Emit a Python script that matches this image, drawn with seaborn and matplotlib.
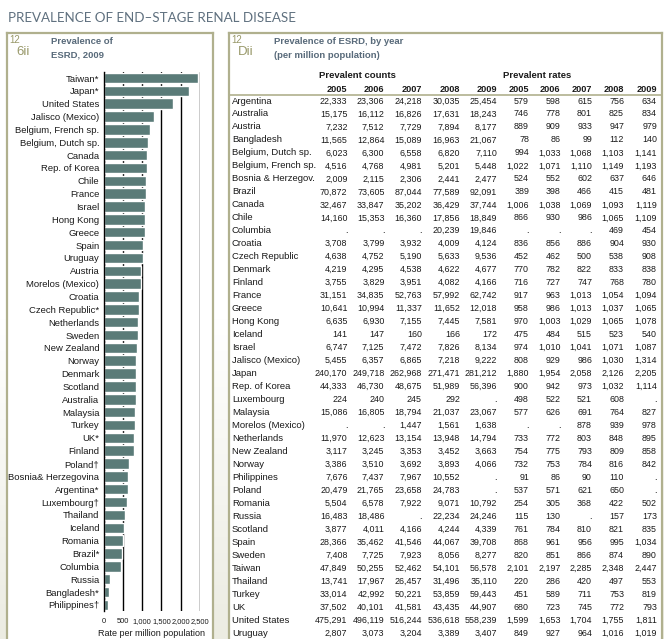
#!/usr/bin/env python3
"""Prevalence of end-stage renal disease: 2009 bar chart plus yearly table."""
import numpy as np
import matplotlib
matplotlib.use('Agg')
import matplotlib.pyplot as plt
import seaborn as sns
from matplotlib import font_manager
from matplotlib.colors import LinearSegmentedColormap

# ---- bar chart data (rate per million, 2009) ----
bar_labels = [
    'Taiwan*', 'Japan*', 'United States', 'Jalisco (Mexico)', 'Belgium, French sp.',
    'Belgium, Dutch sp.', 'Canada', 'Rep. of Korea', 'Chile', 'France', 'Israel',
    'Hong Kong', 'Greece', 'Spain', 'Uruguay', 'Austria', 'Morelos (Mexico)', 'Croatia',
    'Czech Republic*', 'Netherlands', 'Sweden', 'New Zealand', 'Norway', 'Denmark',
    'Scotland', 'Australia', 'Malaysia', 'Turkey', 'UK*', 'Finland', 'Poland\u2020',
    'Bosnia& Herzegovina', 'Argentina*', 'Luxembourg\u2020', 'Thailand', 'Iceland',
    'Romania', 'Brazil*', 'Columbia', 'Russia', 'Bangladesh*', 'Philippines\u2020',
]
bar_values = [
    2447, 2205, 1811, 1314, 1193, 1141, 1119, 1114, 1109, 1094, 1087, 1078, 1065,
    1034, 1019, 979, 978, 930, 908, 895, 890, 858, 842, 838, 835, 834, 827, 819,
    793, 780, 650, 646, 634, 608, 553, 540, 502, 481, 454, 173, 140, 110,
]
bar_ticks = [0, 500, 1000, 1500, 2000, 2500]

# ---- table data ----
years = [2005, 2006, 2007, 2008, 2009]
table_countries = [
    'Argentina', 'Australia', 'Austria', 'Bangladesh', 'Belgium, Dutch sp.',
    'Belgium, French sp.', 'Bosnia & Herzegov.', 'Brazil', 'Canada', 'Chile',
    'Columbia', 'Croatia', 'Czech Republic', 'Denmark', 'Finland', 'France', 'Greece',
    'Hong Kong', 'Iceland', 'Israel', 'Jalisco (Mexico)', 'Japan', 'Rep. of Korea',
    'Luxembourg', 'Malaysia', 'Morelos (Mexico)', 'Netherlands', 'New Zealand',
    'Norway', 'Philippines', 'Poland', 'Romania', 'Russia', 'Scotland', 'Spain',
    'Sweden', 'Taiwan', 'Thailand', 'Turkey', 'UK', 'United States', 'Uruguay',
]
counts = [
    [22333, 23306, 24218, 30035, 25454],
    [15175, 16112, 16826, 17631, 18243],
    [7232, 7512, 7729, 7894, 8177],
    [11565, 12864, 15089, 16963, 21067],
    [6023, 6300, 6558, 6820, 7110],
    [4516, 4768, 4981, 5201, 5448],
    [2009, 2115, 2306, 2441, 2477],
    [70872, 73605, 87044, 77589, 92091],
    [32467, 33847, 35202, 36429, 37744],
    [14160, 15353, 16360, 17856, 18849],
    [None, None, None, 20239, 19846],
    [3708, 3799, 3932, 4009, 4124],
    [4638, 4752, 5190, 5633, 9536],
    [4219, 4295, 4538, 4622, 4677],
    [3755, 3829, 3951, 4082, 4166],
    [31151, 34835, 52763, 57992, 62742],
    [10641, 10994, 11337, 11652, 12018],
    [6635, 6930, 7155, 7445, 7581],
    [141, 147, 160, 166, 172],
    [6747, 7125, 7472, 7826, 8134],
    [5455, 6357, 6865, 7218, 9222],
    [240170, 249718, 262968, 271471, 281212],
    [44333, 46730, 48675, 51989, 56396],
    [224, 240, 245, 292, None],
    [15086, 16805, 18794, 21037, 23067],
    [None, None, 1447, 1561, 1638],
    [11970, 12623, 13154, 13948, 14794],
    [3117, 3245, 3353, 3452, 3663],
    [3386, 3510, 3692, 3893, 4066],
    [7676, 7437, 7967, 10552, None],
    [20479, 21765, 23658, 24783, None],
    [5504, 6578, 7922, 9071, 10792],
    [16483, 18486, None, 22234, 24246],
    [3877, 4011, 4166, 4244, 4339],
    [28366, 35462, 41546, 44067, 39708],
    [7408, 7725, 7923, 8056, 8277],
    [47849, 50255, 52462, 54101, 56578],
    [13741, 17967, 26457, 31496, 35110],
    [33014, 42992, 50221, 53859, 59443],
    [37502, 40101, 41581, 43435, 44907],
    [475291, 496119, 516244, 536618, 558239],
    [2807, 3073, 3204, 3389, 3407],
]
rates = [
    [579, 598, 615, 756, 634],
    [746, 778, 801, 825, 834],
    [889, 909, 933, 947, 979],
    [78, 86, 99, 112, 140],
    [994, 1033, 1068, 1103, 1141],
    [1022, 1071, 1110, 1149, 1193],
    [524, 552, 602, 637, 646],
    [389, 398, 466, 415, 481],
    [1006, 1038, 1069, 1093, 1119],
    [866, 930, 986, 1065, 1109],
    [None, None, None, 469, 454],
    [836, 856, 886, 904, 930],
    [452, 462, 500, 538, 908],
    [770, 782, 822, 833, 838],
    [716, 727, 747, 768, 780],
    [917, 963, 1013, 1054, 1094],
    [958, 986, 1013, 1037, 1065],
    [970, 1003, 1029, 1065, 1078],
    [475, 484, 515, 523, 540],
    [974, 1010, 1041, 1071, 1087],
    [808, 929, 986, 1030, 1314],
    [1880, 1954, 2058, 2126, 2205],
    [900, 942, 973, 1032, 1114],
    [498, 522, 521, 608, None],
    [577, 626, 691, 764, 827],
    [None, None, 878, 939, 978],
    [733, 772, 803, 848, 895],
    [754, 775, 793, 809, 858],
    [732, 753, 784, 816, 842],
    [91, 86, 90, 110, None],
    [537, 571, 621, 650, None],
    [254, 305, 368, 422, 502],
    [115, 130, None, 157, 173],
    [761, 784, 810, 821, 835],
    [868, 961, 956, 995, 1034],
    [820, 851, 866, 874, 890],
    [2101, 2197, 2285, 2348, 2447],
    [220, 286, 420, 497, 553],
    [451, 589, 711, 753, 819],
    [680, 723, 745, 772, 793],
    [1599, 1653, 1704, 1755, 1811],
    [849, 927, 964, 1016, 1019],
]

# ---- styles ----
W, H = 664, 639
BAR = '#5a7b78'
FRAME = '#b0b08e'
TITLE_C = '#5f707f'
HEAD_C = '#586a7a'
OLIVE = '#99996a'
TXT = '#1a1a1a'

sns.set_theme(style='white')
names = {f.name for f in font_manager.fontManager.ttflist}
BODY = 'Liberation Sans' if 'Liberation Sans' in names else 'DejaVu Sans'
TITLE_FONT = 'Lato' if 'Lato' in names else 'DejaVu Sans'
plt.rcParams['font.family'] = [BODY, 'DejaVu Sans']


def box(l, t, r, b):
    return [l / W, 1 - b / H, (r - l) / W, (b - t) / H]


def ftext(x, y, s, **kw):
    fig.text(x / W, 1 - y / H, s, **kw)


def fmt(v):
    return '.' if v is None else f'{v:,}'


fig = plt.figure(figsize=(W / 100, H / 100), dpi=100)
fig.patch.set_facecolor('white')

# faint beige wash along the bottom of the page
bg = fig.add_axes([0, 0, 1, 1], zorder=-1)
bg.axis('off')
wash = LinearSegmentedColormap.from_list('wash', ['white', 'white', '#ecece2'])
bg.imshow(np.linspace(0, 1, 200)[:, None], cmap=wash, aspect='auto',
          extent=[0, 1, 0, 1], origin='upper')

ftext(8, 18, 'PREVALENCE OF END\u2013STAGE RENAL DISEASE', va='center', ha='left',
      fontsize=9.6, color=TITLE_C, family=TITLE_FONT, fontweight='normal')

# frames for the two panels (open at the bottom)
for l, r in [(7, 213), (229, 662)]:
    fa = fig.add_axes(box(l, 33, r, 650), zorder=0)
    fa.set_facecolor('white')
    fa.set_xticks([])
    fa.set_yticks([])
    for side, sp in fa.spines.items():
        sp.set_color(FRAME)
        sp.set_linewidth(1.6)
        sp.set_visible(side != 'bottom')

# panel ids and headings
for x0, letter in [(9, '6ii'), (231, 'Dii')]:
    ftext(x0, 40, '12', fontsize=7, color=OLIVE, va='center')
    ftext(x0 + 7, 52, letter, fontsize=9.5, color=OLIVE, va='center')
head_kw = dict(fontsize=6.8, fontweight='bold', color=HEAD_C, va='center')
ftext(51, 42, 'Prevalence of', **head_kw)
ftext(51, 55, 'ESRD, 2009', **head_kw)
ftext(274, 42, 'Prevalence of ESRD, by year', **head_kw)
ftext(274, 55, '(per million population)', **head_kw)

# ---- left: bar chart ----
ax = fig.add_axes(box(103.5, 71.6, 200, 611.3), zorder=2)
sns.barplot(x=bar_values, y=bar_labels, orient='h', color=BAR, saturation=1,
            width=0.82, ax=ax)
ax.set_facecolor('none')
ax.set_xlim(0, 2500)
ax.set_xticks(bar_ticks)
ax.set_xticklabels([f'{t:,}' for t in bar_ticks])
ax.set_axisbelow(True)
ax.grid(axis='x', color='black', linewidth=1)
ax.grid(axis='y', visible=False)
for side, sp in ax.spines.items():
    sp.set_visible(side == 'left')
ax.spines['left'].set_color('black')
ax.spines['left'].set_linewidth(1)
ax.tick_params(axis='x', length=0, pad=5, labelsize=5.4, colors=TXT)
ax.tick_params(axis='y', length=0, pad=3, labelsize=6.8, colors=TXT)
ax.set_xlabel('Rate per million population', fontsize=6.5, color=TXT, labelpad=3)
ax.set_ylabel('')

# ---- right: table ----
ROW0, STEP = 101, 12.98
tx = fig.add_axes(box(229, 33, 662, 650), zorder=2)
tx.set_facecolor('none')
tx.set_xlim(229, 662)
tx.set_ylim((650 - ROW0) / STEP, (33 - ROW0) / STEP)
tx.axis('off')

count_x = [347.5, 384.5, 422, 460, 497]
rate_x = [529, 560.5, 592, 624, 657]


def row_y(px):
    return (px - ROW0) / STEP


tx.text(319, row_y(75), 'Prevalent counts', fontsize=6.8, fontweight='bold',
        color=TXT, va='center', ha='left')
tx.text(503, row_y(75), 'Prevalent rates', fontsize=6.8, fontweight='bold',
        color=TXT, va='center', ha='left')
for j, yr in enumerate(years):
    for xs in (count_x, rate_x):
        tx.text(xs[j], row_y(89.5), str(yr), fontsize=6.6, fontweight='bold',
                color=TXT, va='center', ha='right')
tx.plot([229, 662], [row_y(95), row_y(95)], color=FRAME, lw=1.2, clip_on=False)

for i, name in enumerate(table_countries):
    tx.text(232, i, name, fontsize=6.8, color=TXT, va='center', ha='left')
    for j in range(len(years)):
        tx.text(count_x[j], i, fmt(counts[i][j]), fontsize=6.4, color=TXT,
                va='center', ha='right')
        tx.text(rate_x[j], i, fmt(rates[i][j]), fontsize=6.4, color=TXT,
                va='center', ha='right')

fig.savefig('out.png', dpi=100, facecolor=fig.get_facecolor())
